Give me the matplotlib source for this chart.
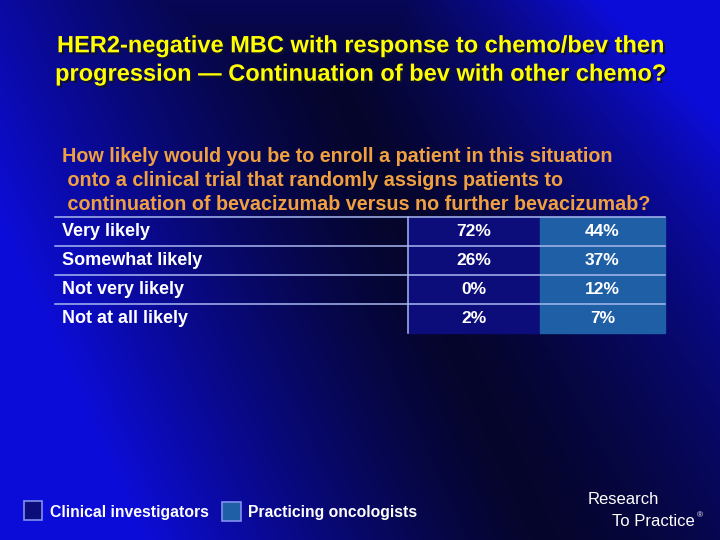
import matplotlib.pyplot as plt
import matplotlib.patheffects as pe
import numpy as np

plt.rcParams['font.family'] = ['Liberation Sans', 'DejaVu Sans']

title = "HER2-negative MBC with response to chemo/bev then\nprogression \u2014 Continuation of bev with other chemo?"
question = ["How likely would you be to enroll a patient in this situation",
            " onto a clinical trial that randomly assigns patients to",
            " continuation of bevacizumab versus no further bevacizumab?"]
responses = ["Very likely", "Somewhat likely", "Not very likely", "Not at all likely"]
clinical = [72, 26, 0, 2]
practicing = [44, 37, 12, 7]
groups = ["Clinical investigators", "Practicing oncologists"]

fig = plt.figure(figsize=(7.2, 5.4), dpi=100)
ax = fig.add_axes([0, 0, 1, 1])
ax.set_xlim(0, 720)
ax.set_ylim(540, 0)
ax.axis('off')

# background: broad dark band from top middle to bottom right, blue on the sides
yy, xx = np.mgrid[0:540:3, 0:720:3]
xc = 300 + 0.45 * yy
dx = xx - xc
w = np.where(dx < 0, 400.0, 300 + 0.5 * yy)
t = np.clip(np.abs(dx) / w, 0, 1) ** 1.3
t = np.maximum(t, 0.25 * np.clip(1 - yy / 90.0, 0, 1))
bg = np.zeros(xx.shape + (3,))
bg[..., 0] = 0.02 + 0.03 * t
bg[..., 1] = 0.02 + 0.03 * t
bg[..., 2] = 0.17 + 0.68 * t
ax.imshow(bg, extent=(0, 720, 540, 0), aspect='auto', zorder=0)

shadow = [pe.withSimplePatchShadow(offset=(1.5, -1.5), shadow_rgbFace='#101030', alpha=1)]
ax.text(361, 60, title, color='#ffff00', fontsize=17, fontweight='bold',
        ha='center', va='center', linespacing=1.3, path_effects=shadow)

qy = [157, 181, 204]
for line, y in zip(question, qy):
    ax.text(62, y, line, color='#f0a040', fontsize=14.2, fontweight='bold', va='center')

# table
x0, x1, x2, x3 = 55, 408, 540, 665
top, rh = 217, 29
n = len(responses)
ax.add_patch(plt.Rectangle((x1, top), x2 - x1, rh * n, color='#0c0c7a', zorder=1))
ax.add_patch(plt.Rectangle((x2, top), x3 - x2, rh * n, color='#1f5fa6', zorder=1))
linec = '#a8b8f0'
for i in range(n):
    ax.plot([x0, x3], [top + i * rh] * 2, color=linec, lw=1.1, zorder=2)
ax.plot([x1, x1], [top, top + rh * n], color=linec, lw=1.1, zorder=2)

for i, (r, a, b) in enumerate(zip(responses, clinical, practicing)):
    yc = top + i * rh + rh / 2
    ax.text(62, yc, r, color='white', fontsize=13, fontweight='bold', va='center', zorder=3)
    ax.text((x1 + x2) / 2, yc, f"{a}%", color='white', fontsize=12.5, fontweight='bold',
            ha='center', va='center', zorder=3)
    ax.text((x2 + x3) / 2, yc, f"{b}%", color='white', fontsize=12.5, fontweight='bold',
            ha='center', va='center', zorder=3)

# legend
ax.add_patch(plt.Rectangle((24, 501), 18, 19, facecolor='#0c0c7a', edgecolor='#8090f0', lw=1.2, zorder=3))
ax.text(50, 512, groups[0], color='white', fontsize=11.3, fontweight='bold', va='center')
ax.add_patch(plt.Rectangle((222, 502), 19, 19, facecolor='#1f5fa6', edgecolor='#8090f0', lw=1.2, zorder=3))
ax.text(248, 513, groups[1], color='white', fontsize=11.3, fontweight='bold', va='center')

ax.text(588, 500, "Research", color='white', fontsize=12, va='center')
ax.text(612, 521, "To Practice", color='white', fontsize=12, va='center')
ax.text(697, 516, "\u00ae", color='white', fontsize=6, va='center')

fig.savefig('out.png', dpi=100)
